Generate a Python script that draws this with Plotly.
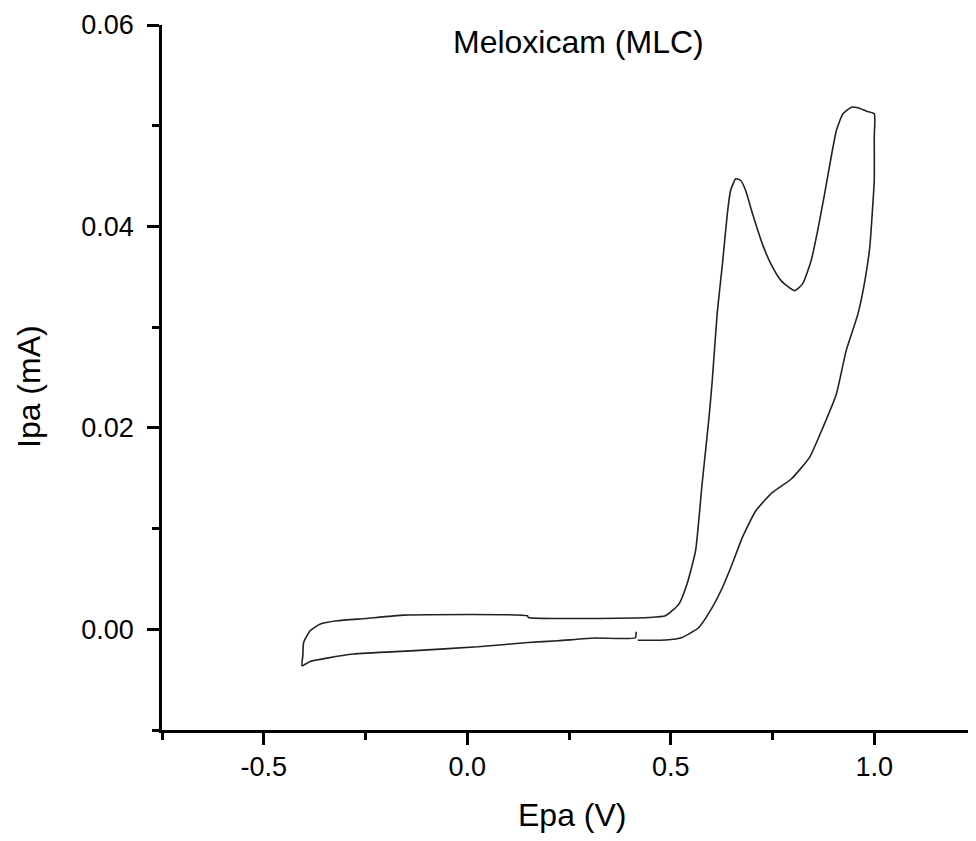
import plotly.graph_objects as go

# Cyclic voltammogram of Meloxicam (MLC), traced as one closed loop
epa_v = [0.419, 0.487, 0.528, 0.569, 0.602, 0.627, 0.651, 0.676, 0.709, 0.750,
         0.796, 0.841, 0.874, 0.907, 0.931, 0.960, 0.977, 0.989, 0.995, 1.000,
         1.000, 1.000,
         0.981, 0.960, 0.944, 0.923, 0.907, 0.894, 0.878, 0.861, 0.845, 0.824,
         0.804, 0.771, 0.746, 0.725, 0.701, 0.684, 0.672, 0.660, 0.647, 0.639,
         0.627, 0.614, 0.602, 0.594, 0.577, 0.561, 0.540, 0.520, 0.487, 0.446,
         0.150, 0.148, -0.155, -0.250, -0.320, -0.361, -0.386, -0.402, -0.404, -0.406,
         -0.386, -0.344, -0.279, -0.139, 0.026, 0.149, 0.223, 0.314, 0.413, 0.415]
ipa_ma = [-0.00109, -0.00107, -0.00081, 0.00018, 0.00217, 0.00415, 0.00648, 0.00912, 0.01177, 0.01359,
          0.01492, 0.01707, 0.02005, 0.02337, 0.02767, 0.03132, 0.03462, 0.03793, 0.04125, 0.04456,
          0.04886, 0.05118,
          0.05144, 0.05178, 0.05184, 0.05118, 0.04953, 0.04687, 0.04324, 0.03959, 0.03661, 0.03430,
          0.03363, 0.03462, 0.03628, 0.03827, 0.04125, 0.04357, 0.04456, 0.04473, 0.04357, 0.04125,
          0.03628, 0.03132, 0.02469, 0.02104, 0.01443, 0.00780, 0.00449, 0.00250, 0.00134, 0.00117,
          0.00117, 0.00134, 0.00141, 0.00107, 0.00084, 0.00052, -0.00015, -0.00131, -0.00263, -0.00363,
          -0.00320, -0.00286, -0.00246, -0.00214, -0.00174, -0.00131, -0.00114, -0.00087, -0.00084, -0.00025]

x_ticks = [-0.5, 0.0, 0.5, 1.0]
x_ticklabels = ["-0.5", "0.0", "0.5", "1.0"]
y_ticks = [0.00, 0.02, 0.04, 0.06]
y_ticklabels = ["0.00", "0.02", "0.04", "0.06"]

FONT = "Arial, 'Liberation Sans', sans-serif"

fig = go.Figure()
fig.add_trace(go.Scatter(x=epa_v, y=ipa_ma, mode="lines",
                         line=dict(color="#222222", width=1.6, shape="spline", smoothing=0.5),
                         showlegend=False, hoverinfo="skip", cliponaxis=False))

axis_common = dict(showgrid=False, zeroline=False, showline=True, linecolor="black",
                   linewidth=2.8, ticks="outside", ticklen=12, tickwidth=2.8,
                   tickcolor="black", tickfont=dict(family=FONT, size=27, color="black"),
                   mirror=False, automargin=False)

fig.update_xaxes(range=[-0.75, 1.25], tickvals=x_ticks, ticktext=x_ticklabels,
                 minor=dict(dtick=0.25, tick0=0, ticks="outside", ticklen=7, tickwidth=2.6,
                            tickcolor="black", showgrid=False),
                 ticklabelstandoff=-1, **axis_common)
fig.update_yaxes(range=[-0.01, 0.06], tickvals=y_ticks, ticktext=y_ticklabels,
                 minor=dict(dtick=0.01, tick0=0, ticks="outside", ticklen=7, tickwidth=2.6,
                            tickcolor="black", showgrid=False),
                 ticklabelstandoff=8, **axis_common)

# page body adds an 8px offset; figure sized to fit the window exactly
fig.update_layout(
    width=968, height=833,
    margin=dict(l=154, r=0, t=17, b=111, autoexpand=False),
    paper_bgcolor="white", plot_bgcolor="white",
    font=dict(family=FONT, color="black"),
    annotations=[
        dict(text="Meloxicam (MLC)", xref="paper", yref="paper", x=0.512, y=(730 - 42) / 705,
             xanchor="center", yanchor="middle", showarrow=False,
             font=dict(family=FONT, size=32, color="black")),
        dict(text="Epa (V)", xref="paper", yref="paper", x=(572 - 162) / 814, y=-(815 - 730) / 705,
             xanchor="center", yanchor="middle", showarrow=False,
             font=dict(family=FONT, size=32, color="black")),
        dict(text="Ipa (mA)", xref="paper", yref="paper", x=-(162 - 29) / 814, y=(730 - 387) / 705,
             xanchor="center", yanchor="middle", textangle=-90, showarrow=False,
             font=dict(family=FONT, size=32, color="black")),
    ],
)

fig.write_html("out.html")
